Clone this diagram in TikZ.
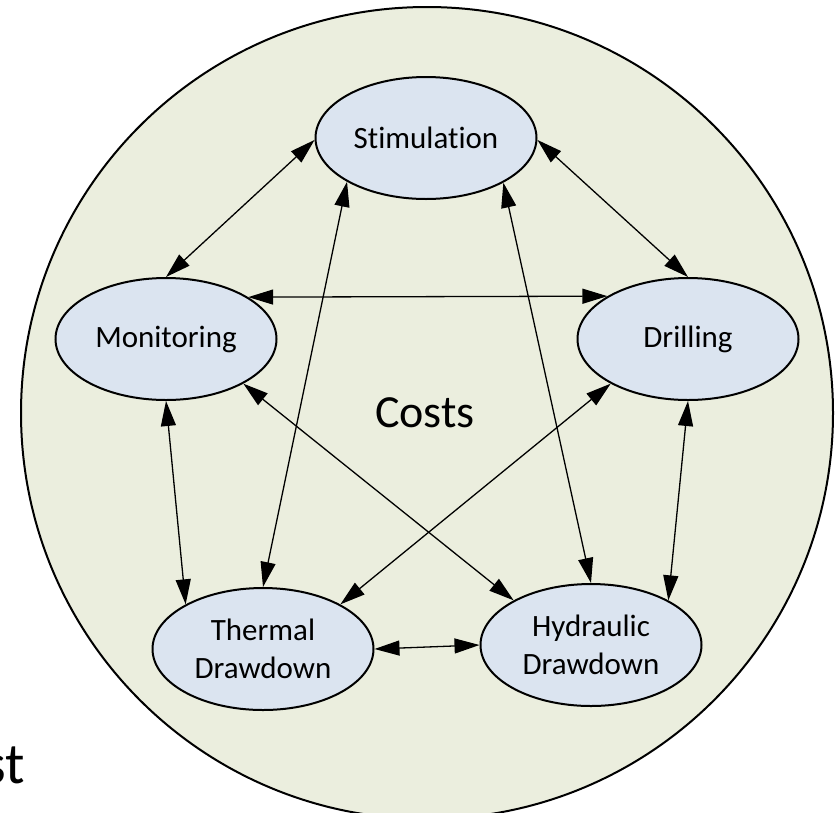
\documentclass[tikz,border=0pt]{standalone}
\usepackage{fontspec}
\setmainfont{Carlito}[Ligatures=NoCommon]
\usetikzlibrary{shapes.geometric, arrows.meta}
\definecolor{costbg}{HTML}{EBEEDE}
\definecolor{topicbg}{HTML}{DBE4F0}
\tikzset{
  topic/.style={ellipse, draw, line width=2pt, fill=topicbg, minimum width=221pt,
    minimum height=122pt, inner sep=0pt, align=center, font=\fontsize{31}{38}\selectfont},
  link/.style={{Triangle[length=25pt,width=15pt]}-{Triangle[length=25pt,width=15pt]}, line width=1.3pt}
}

\begin{document}
\begin{tikzpicture}[x=1pt,y=-1pt]
			\useasboundingbox (0,0) rectangle (835,812);
			% big cost circle and its parts
			\draw [line width=2pt, fill=costbg] (427,413) circle (406);
			\node [font=\fontsize{46}{55}\selectfont] (costs) at (425,413) {Costs};
			\node [font=\fontsize{58}{70}\selectfont, anchor=base east, inner sep=0pt] (frag) at (25,783) {st};
			\node [topic] (stim) at (426,138) {Stimulation};
			\node [topic] (mon) at (166,339) {Monitoring};
			\node [topic] (drill) at (688,339) {Drilling};
			\node [topic] (therm) at (263,649) {Thermal\\Drawdown};
			\node [topic] (hyd) at (591,645) {Hydraulic\\Drawdown};
			% every pair is linked both ways
			\draw [link] (stim.181) -- (mon.90);
			\draw [link] (stim.-1) -- (drill.90);
			\draw [link] (mon.27) -- (drill.152);
			\draw [link] (mon.270) -- (therm.150);
			\draw [link] (drill.270) -- (hyd.30);
			\draw [link] (stim.209) -- (therm.90);
			\draw [link] (stim.330) -- (hyd.90);
			\draw [link] (mon.330) -- (hyd.150);
			\draw [link] (drill.210) -- (therm.30);
			\draw [link] (therm.0) -- (hyd.180);
		\end{tikzpicture}
\end{document}
